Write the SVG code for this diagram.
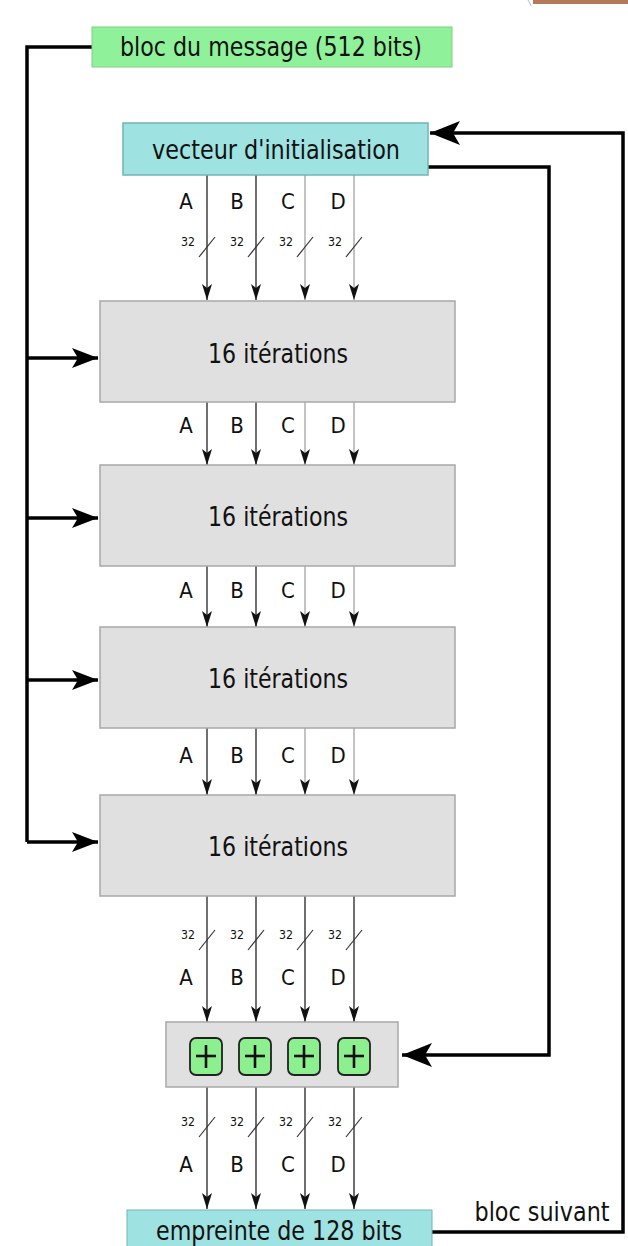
<svg xmlns="http://www.w3.org/2000/svg" width="628" height="1246" viewBox="0 0 628 1246">
<style>
.t{font-family:"DejaVu Sans Condensed","DejaVu Sans","Liberation Sans",sans-serif;fill:#111;text-anchor:middle;dominant-baseline:central}
.big{font-size:27px}
.lab{font-size:22px}
.n32{font-size:13px}
.gray{fill:#e0e0e0;stroke:#a8a8a8;stroke-width:1.5}
.thick{fill:none;stroke:#000;stroke-width:3.5}
.la{stroke:#333;stroke-width:1.4;fill:none}
.lc{stroke:#aaa;stroke-width:1.4;fill:none}
.sl{stroke:#333;stroke-width:1.2}
.plus{fill:#8df08f;stroke:#222;stroke-width:1.8}
</style>
<defs>
<marker id="big" viewBox="0 0 30 24" refX="30" refY="12" markerWidth="30" markerHeight="24" markerUnits="userSpaceOnUse" orient="auto">
<path d="M0,0 L30,12 L0,24 L7,12 Z" fill="#000"/>
</marker>
<marker id="mid" viewBox="0 0 26 20" refX="26" refY="10" markerWidth="26" markerHeight="20" markerUnits="userSpaceOnUse" orient="auto">
<path d="M0,0 L26,10 L0,20 L6,10 Z" fill="#000"/>
</marker>
<marker id="sm" viewBox="0 0 16 10" refX="16" refY="5" markerWidth="16" markerHeight="10" markerUnits="userSpaceOnUse" orient="auto">
<path d="M0,0 L16,5 L0,10 L4,5 Z" fill="#111"/>
</marker>
</defs>
<rect x="533" y="0" width="95" height="4" fill="#b47a5c"/>
<path d="M528,0 Q530,3 531,6" stroke="#bbb" stroke-width="1" fill="none"/>

<g id="connectors">
<path class="thick" d="M92,47 H27 V842"/>
<path class="thick" d="M27,358 H98" marker-end="url(#mid)"/>
<path class="thick" d="M27,518 H98" marker-end="url(#mid)"/>
<path class="thick" d="M27,680 H98" marker-end="url(#mid)"/>
<path class="thick" d="M27,842 H98" marker-end="url(#mid)"/>
<path class="thick" d="M428,167 H549 V1055 H402" marker-end="url(#big)"/>
<path class="thick" d="M432,1232 H623 V133 H430" marker-end="url(#big)"/>

<path class="la" d="M207,175 V300" marker-end="url(#sm)"/>
<path class="la" d="M256,175 V300" marker-end="url(#sm)"/>
<path class="lc" d="M305,175 V300" marker-end="url(#sm)"/>
<path class="lc" d="M354,175 V300" marker-end="url(#sm)"/>
<path class="la" d="M207,402 V465" marker-end="url(#sm)"/>
<path class="la" d="M256,402 V465" marker-end="url(#sm)"/>
<path class="lc" d="M305,402 V465" marker-end="url(#sm)"/>
<path class="lc" d="M354,402 V465" marker-end="url(#sm)"/>
<path class="la" d="M207,566 V627" marker-end="url(#sm)"/>
<path class="la" d="M256,566 V627" marker-end="url(#sm)"/>
<path class="lc" d="M305,566 V627" marker-end="url(#sm)"/>
<path class="lc" d="M354,566 V627" marker-end="url(#sm)"/>
<path class="la" d="M207,728 V795" marker-end="url(#sm)"/>
<path class="la" d="M256,728 V795" marker-end="url(#sm)"/>
<path class="lc" d="M305,728 V795" marker-end="url(#sm)"/>
<path class="lc" d="M354,728 V795" marker-end="url(#sm)"/>
<path class="la" d="M207,896 V1022" marker-end="url(#sm)"/>
<path class="la" d="M256,896 V1022" marker-end="url(#sm)"/>
<path class="la" d="M305,896 V1022" marker-end="url(#sm)"/>
<path class="la" d="M354,896 V1022" marker-end="url(#sm)"/>
<path class="la" d="M207,1087 V1209" marker-end="url(#sm)"/>
<path class="la" d="M256,1087 V1209" marker-end="url(#sm)"/>
<path class="la" d="M305,1087 V1209" marker-end="url(#sm)"/>
<path class="la" d="M354,1087 V1209" marker-end="url(#sm)"/>

<g class="sl">
<line x1="199" y1="257" x2="215" y2="237"/><line x1="248" y1="257" x2="264" y2="237"/><line x1="297" y1="257" x2="313" y2="237"/><line x1="346" y1="257" x2="362" y2="237"/>
<line x1="199" y1="950" x2="215" y2="930"/><line x1="248" y1="950" x2="264" y2="930"/><line x1="297" y1="950" x2="313" y2="930"/><line x1="346" y1="950" x2="362" y2="930"/>
<line x1="199" y1="1137" x2="215" y2="1117"/><line x1="248" y1="1137" x2="264" y2="1117"/><line x1="297" y1="1137" x2="313" y2="1117"/><line x1="346" y1="1137" x2="362" y2="1117"/>
</g>
</g>

<g id="labels">
<text class="t lab" x="186" y="201">A</text><text class="t lab" x="237" y="201">B</text><text class="t lab" x="288" y="201">C</text><text class="t lab" x="338" y="201">D</text>
<text class="t n32" x="188" y="241" textLength="14" lengthAdjust="spacingAndGlyphs">32</text><text class="t n32" x="237" y="241" textLength="14" lengthAdjust="spacingAndGlyphs">32</text><text class="t n32" x="286" y="241" textLength="14" lengthAdjust="spacingAndGlyphs">32</text><text class="t n32" x="335" y="241" textLength="14" lengthAdjust="spacingAndGlyphs">32</text>
<text class="t lab" x="186" y="425">A</text><text class="t lab" x="237" y="425">B</text><text class="t lab" x="288" y="425">C</text><text class="t lab" x="338" y="425">D</text>
<text class="t lab" x="186" y="590">A</text><text class="t lab" x="237" y="590">B</text><text class="t lab" x="288" y="590">C</text><text class="t lab" x="338" y="590">D</text>
<text class="t lab" x="186" y="755">A</text><text class="t lab" x="237" y="755">B</text><text class="t lab" x="288" y="755">C</text><text class="t lab" x="338" y="755">D</text>
<text class="t n32" x="188" y="934" textLength="14" lengthAdjust="spacingAndGlyphs">32</text><text class="t n32" x="237" y="934" textLength="14" lengthAdjust="spacingAndGlyphs">32</text><text class="t n32" x="286" y="934" textLength="14" lengthAdjust="spacingAndGlyphs">32</text><text class="t n32" x="335" y="934" textLength="14" lengthAdjust="spacingAndGlyphs">32</text>
<text class="t lab" x="186" y="977">A</text><text class="t lab" x="237" y="977">B</text><text class="t lab" x="288" y="977">C</text><text class="t lab" x="338" y="977">D</text>
<text class="t n32" x="188" y="1121" textLength="14" lengthAdjust="spacingAndGlyphs">32</text><text class="t n32" x="237" y="1121" textLength="14" lengthAdjust="spacingAndGlyphs">32</text><text class="t n32" x="286" y="1121" textLength="14" lengthAdjust="spacingAndGlyphs">32</text><text class="t n32" x="335" y="1121" textLength="14" lengthAdjust="spacingAndGlyphs">32</text>
<text class="t lab" x="186" y="1164">A</text><text class="t lab" x="237" y="1164">B</text><text class="t lab" x="288" y="1164">C</text><text class="t lab" x="338" y="1164">D</text>
<text class="t big" x="542" y="1211" textLength="135" lengthAdjust="spacingAndGlyphs">bloc suivant</text>
</g>

<g id="message">
<rect x="92" y="27" width="360" height="40" fill="#8ff19a" stroke="#7ccf85" stroke-width="1"/>
<text class="t big" x="271" y="46" textLength="302" lengthAdjust="spacingAndGlyphs">bloc du message (512 bits)</text>
</g>
<g id="init">
<rect x="123" y="123" width="305" height="52" fill="#9ee2e2" stroke="#72b4b4" stroke-width="1.5"/>
<text class="t big" x="276" y="149" textLength="248" lengthAdjust="spacingAndGlyphs">vecteur d'initialisation</text>
</g>
<g id="round1">
<rect class="gray" x="100" y="301" width="355" height="101"/>
<text class="t big" x="278" y="353" textLength="140" lengthAdjust="spacingAndGlyphs">16 itérations</text>
</g>
<g id="round2">
<rect class="gray" x="100" y="465" width="355" height="101"/>
<text class="t big" x="278" y="516" textLength="140" lengthAdjust="spacingAndGlyphs">16 itérations</text>
</g>
<g id="round3">
<rect class="gray" x="100" y="627" width="355" height="101"/>
<text class="t big" x="278" y="678" textLength="140" lengthAdjust="spacingAndGlyphs">16 itérations</text>
</g>
<g id="round4">
<rect class="gray" x="100" y="795" width="355" height="101"/>
<text class="t big" x="278" y="846" textLength="140" lengthAdjust="spacingAndGlyphs">16 itérations</text>
</g>
<g id="adders">
<rect class="gray" x="166" y="1022" width="232" height="65"/>
<g stroke="#111" stroke-width="2.6">
<rect class="plus" x="190" y="1038" width="32" height="37" rx="6"/><line x1="196" y1="1056" x2="216" y2="1056"/><line x1="206" y1="1045" x2="206" y2="1068"/>
<rect class="plus" x="239" y="1038" width="32" height="37" rx="6"/><line x1="245" y1="1056" x2="265" y2="1056"/><line x1="255" y1="1045" x2="255" y2="1068"/>
<rect class="plus" x="288" y="1038" width="32" height="37" rx="6"/><line x1="294" y1="1056" x2="314" y2="1056"/><line x1="304" y1="1045" x2="304" y2="1068"/>
<rect class="plus" x="338" y="1038" width="32" height="37" rx="6"/><line x1="344" y1="1056" x2="364" y2="1056"/><line x1="354" y1="1045" x2="354" y2="1068"/>
</g>
</g>
<g id="output">
<rect x="127" y="1210" width="305" height="40" fill="#9ee2e2" stroke="#72b4b4" stroke-width="1"/>
<text class="t big" x="279" y="1230" textLength="246" lengthAdjust="spacingAndGlyphs">empreinte de 128 bits</text>
</g>
</svg>
